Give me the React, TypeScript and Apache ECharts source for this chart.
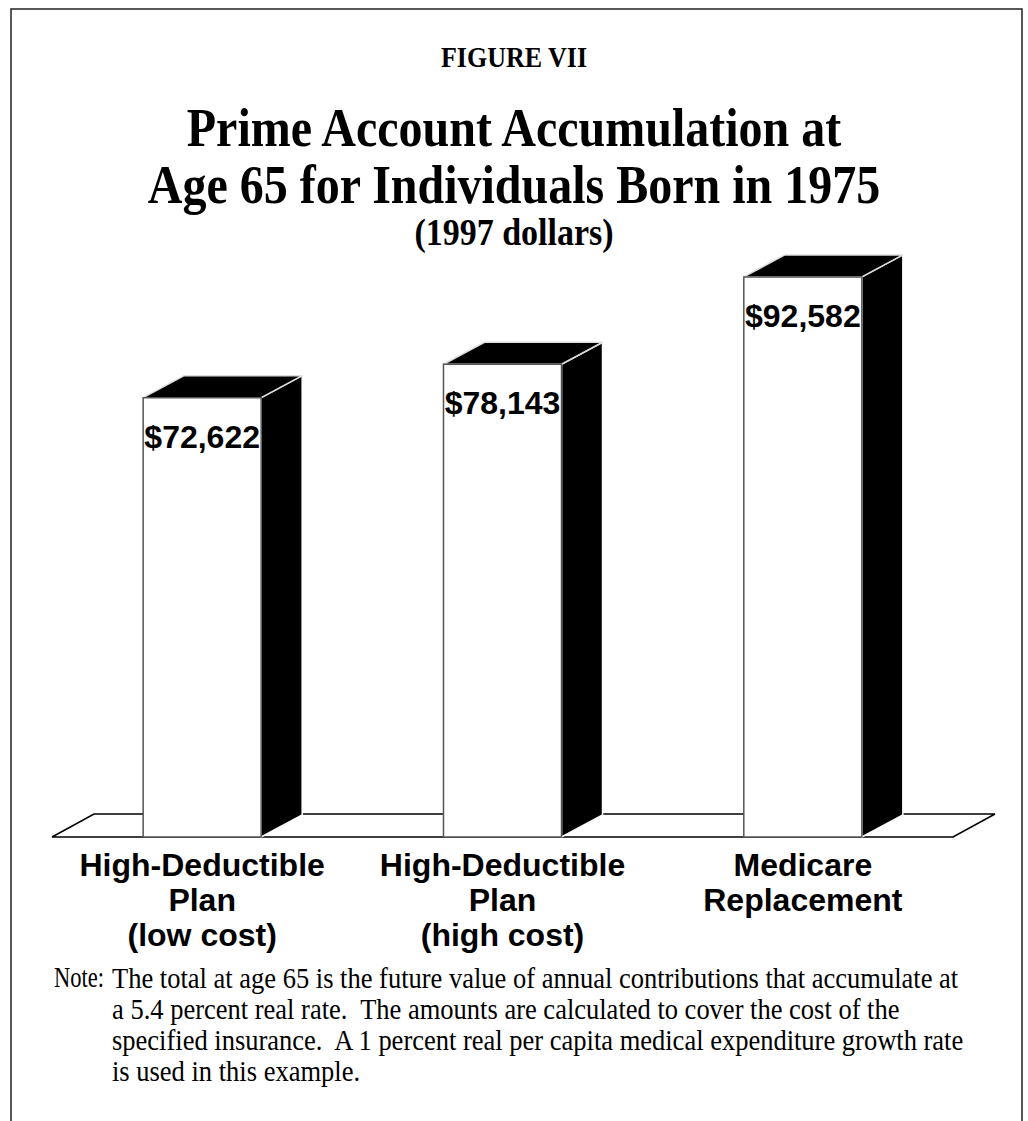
import React, { useEffect, useRef } from "react";
import * as echarts from "echarts";

const categories = [
  "High-Deductible\nPlan\n(low cost)",
  "High-Deductible\nPlan\n(high cost)",
  "Medicare\nReplacement",
];
const values = [72622, 78143, 92582];
const valueLabels = ["$72,622", "$78,143", "$92,582"];
const yMax = 100000;

const figureLabel = "FIGURE VII";
const titleLines = [
  "Prime Account Accumulation at",
  "Age 65 for Individuals Born in 1975",
];
const subtitle = "(1997 dollars)";
const notePrefix = "Note:";
const noteLines = [
  "The total at age 65 is the future value of annual contributions that accumulate at",
  "a 5.4 percent real rate.\u00a0 The amounts are calculated to cover the cost of the",
  "specified insurance.\u00a0 A 1 percent real per capita medical expenditure growth rate",
  "is used in this example.",
];

const SERIF = '"Liberation Serif", "Times New Roman", serif';
const SANS = '"Liberation Sans", Arial, sans-serif';
const DX = 41;
const DY = -22;
const BAR_RATIO = 0.393;

export default function App() {
  const ref = useRef<HTMLDivElement>(null);
  useEffect(() => {
    if (!ref.current) return;
    const chart = echarts.init(ref.current, undefined, { renderer: "svg" });
    const graphic: any[] = [
      {
        type: "rect",
        shape: { x: 11, y: 9, width: 1011, height: 1200 },
        style: { fill: "none", stroke: "#222", lineWidth: 1.5 },
        silent: true,
      },
      {
        type: "text",
        x: 514,
        y: 58,
        scaleY: 1.1,
        style: { text: figureLabel, font: `bold 26px ${SERIF}`, fill: "#000", align: "center", verticalAlign: "middle" },
      },
      ...titleLines.map((t, i) => ({
        type: "text",
        x: 514,
        y: 127 + i * 57,
        scaleY: 1.13,
        style: { text: t, font: `bold 48px ${SERIF}`, fill: "#000", align: "center", verticalAlign: "middle" },
      })),
      {
        type: "text",
        x: 514,
        y: 232,
        scaleY: 1.1,
        style: { text: subtitle, font: `bold 34px ${SERIF}`, fill: "#000", align: "center", verticalAlign: "middle" },
      },
      {
        type: "text",
        x: 54,
        y: 978,
        scaleX: 0.85,
        scaleY: 1.08,
        style: { text: notePrefix, font: `26.5px ${SERIF}`, fill: "#000", align: "left", verticalAlign: "middle" },
      },
      ...noteLines.map((t, i) => ({
        type: "text",
        x: 112,
        y: 978 + i * 31,
        scaleY: 1.08,
        style: { text: t, font: `26.5px ${SERIF}`, fill: "#000", align: "left", verticalAlign: "middle" },
      })),
    ];

    chart.setOption({
      animation: false,
      backgroundColor: "#fff",
      grid: { left: 52, right: 75, top: 232, bottom: 284, containLabel: false },
      xAxis: {
        type: "category",
        data: categories,
        axisLine: { show: false },
        axisTick: { show: false },
        splitLine: { show: false },
        axisLabel: {
          interval: 0,
          margin: 10,
          fontFamily: SANS,
          fontWeight: "bold",
          fontSize: 32,
          lineHeight: 35,
          color: "#000",
        },
      },
      yAxis: { type: "value", min: 0, max: yMax, show: false },
      series: [
        {
          type: "custom",
          z: 1,
          data: [[0, 0]],
          renderItem: (params: any) => {
            const cs = params.coordSys;
            const yb = cs.y + cs.height;
            return {
              type: "polygon",
              shape: {
                points: [
                  [cs.x, yb],
                  [cs.x + DX + 1, yb + DY - 1],
                  [cs.x + cs.width + DX + 1, yb + DY - 1],
                  [cs.x + cs.width, yb],
                ],
              },
              style: { fill: "#fff", stroke: "#000", lineWidth: 1.5 },
            };
          },
        },
        {
          type: "custom",
          z: 2,
          data: values.map((v, i) => [i, v]),
          renderItem: (params: any, api: any) => {
            const i = api.value(0);
            const v = api.value(1);
            const b = api.coord([i, 0]);
            const t = api.coord([i, v]);
            const bw = api.size([1, 0])[0] * BAR_RATIO;
            const x0 = b[0] - bw / 2;
            const x1 = b[0] + bw / 2;
            const y0 = t[1];
            const y1 = b[1];
            return {
              type: "group",
              children: [
                {
                  type: "polygon",
                  shape: { points: [[x1, y0], [x1 + DX, y0 + DY], [x1 + DX, y1 + DY], [x1, y1]] },
                  style: { fill: "#000", stroke: "#fff", lineWidth: 1.5 },
                },
                {
                  type: "polygon",
                  shape: { points: [[x0, y0], [x0 + DX, y0 + DY], [x1 + DX, y0 + DY], [x1, y0]] },
                  style: { fill: "#000", stroke: "#ddd", lineWidth: 1.5 },
                },
                {
                  type: "rect",
                  shape: { x: x0, y: y0, width: bw, height: y1 - y0 },
                  style: { fill: "#fff", stroke: "#555", lineWidth: 1.5 },
                },
                {
                  type: "text",
                  x: b[0],
                  y: y0 + 39,
                  style: {
                    text: valueLabels[params.dataIndex],
                    font: `bold 32px ${SANS}`,
                    fill: "#000",
                    align: "center",
                    verticalAlign: "middle",
                  },
                },
              ],
            };
          },
        },
      ],
      graphic,
    });
    return () => chart.dispose();
  }, []);
  return (
    <div
      ref={ref}
      style={{ position: "absolute", left: 0, top: 0, width: 1028, height: 1121, background: "#fff" }}
    />
  );
}
